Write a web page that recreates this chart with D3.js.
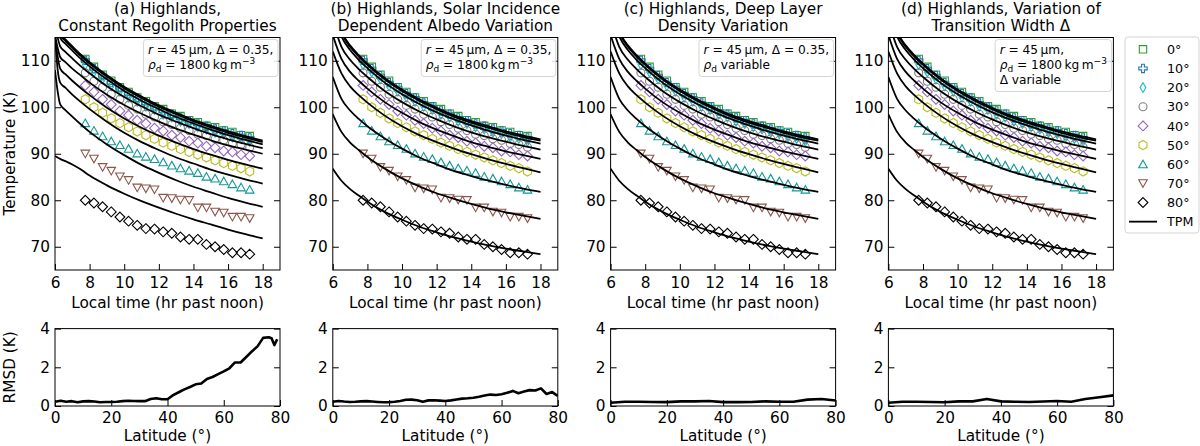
<!DOCTYPE html>
<html>
<head>
<meta charset="utf-8">
<script src="https://cdn.jsdelivr.net/npm/d3@7"></script>
<style>
  body { margin: 0; background: #fff; }
  svg { font-family: "DejaVu Sans", sans-serif; }
</style>
</head>
<body>
<div id="chart"></div>
<script>
// ---- data ----
var latLabels = ["0°", "10°", "20°", "30°", "40°", "50°", "60°", "70°", "80°"];

// observed night-time temperatures (K) at local time (hr past noon)
var obsTimes = [7.75, 8.25, 8.75, 9.25, 9.75, 10.25, 10.75, 11.25, 11.75, 12.25,
                12.75, 13.25, 13.75, 14.25, 14.75, 15.25, 15.75, 16.25, 16.75, 17.25];
var obs00 = [110.4, 108.7, 107.0, 105.7, 104.3, 103.3, 102.1, 101.3, 100.2, 99.6, 98.6, 98.1, 97.2, 96.8, 96.0, 95.7, 95.0, 94.7, 94.0, 93.8];
var obs10 = [110.1, 108.3, 106.8, 105.3, 104.2, 102.9, 102.0, 100.9, 100.1, 99.2, 98.5, 97.7, 97.1, 96.4, 95.9, 95.3, 94.9, 94.3, 93.9, 93.4];
var obs20 = [109.2, 107.6, 106.1, 104.6, 103.5, 102.2, 101.3, 100.2, 99.5, 98.5, 97.9, 97.0, 96.5, 95.8, 95.3, 94.6, 94.3, 93.6, 93.3, 92.7];
var obs30 = [107.4, 105.6, 104.3, 102.8, 101.7, 100.4, 99.6, 98.5, 97.9, 96.9, 96.3, 95.5, 95.0, 94.2, 93.9, 93.2, 92.9, 92.2, 92.0, 91.4];
var obs40 = [104.7, 103.3, 101.7, 100.6, 99.2, 98.3, 97.2, 96.5, 95.5, 94.9, 94.0, 93.5, 92.7, 92.3, 91.6, 91.3, 90.6, 90.4, 89.8, 89.5];
var obs50 = [101.7, 100.0, 98.8, 97.6, 96.6, 95.7, 94.8, 94.0, 93.2, 92.4, 91.7, 91.0, 90.4, 89.8, 89.2, 88.6, 88.0, 87.4, 86.9, 86.2];
var obs60 = [96.6, 95.0, 93.8, 92.7, 91.9, 91.1, 90.1, 89.4, 88.9, 88.2, 87.5, 86.9, 86.4, 85.9, 85.1, 84.7, 84.1, 83.5, 82.8, 82.3];
var obs70 = [90.0, 88.9, 87.1, 86.3, 85.1, 84.3, 82.7, 82.5, 82.3, 80.5, 80.4, 80.1, 80.0, 78.4, 78.4, 77.5, 77.3, 76.4, 76.4, 76.1];
var obs80 = [80.0, 79.4, 78.6, 77.5, 76.4, 75.5, 74.6, 73.9, 73.8, 73.2, 72.9, 72.1, 71.6, 71.6, 70.5, 70.0, 69.4, 68.7, 68.7, 68.4];
var observed = [obs00, obs10, obs20, obs30, obs40, obs50, obs60, obs70, obs80];

// TPM model curves, one row per latitude (0..80)
var tpmTimesConst = [6, 6.15, 6.3, 6.6, 7, 7.5, 8, 9, 10, 11, 12, 13, 14, 15, 16, 17, 18];
var tpmConstant = [
  [121.0, 117.8, 115.8, 114.6, 113.1, 111.3, 109.7, 106.9, 104.4, 102.3, 100.4, 98.8, 97.3, 96.0, 94.8, 93.8, 92.8],
  [120.5, 117.4, 115.5, 114.3, 112.8, 111.0, 109.4, 106.6, 104.1, 102.0, 100.1, 98.5, 97.0, 95.7, 94.5, 93.5, 92.5],
  [119.5, 116.8, 114.9, 113.7, 112.2, 110.4, 108.8, 106.0, 103.5, 101.4, 99.6, 97.9, 96.5, 95.2, 94.0, 93.0, 92.0],
  [117.5, 115.0, 113.1, 111.9, 110.5, 108.8, 107.3, 104.5, 102.2, 100.2, 98.4, 96.9, 95.5, 94.2, 93.1, 92.1, 91.2],
  [115.5, 112.8, 110.8, 109.7, 108.3, 106.8, 105.3, 102.7, 100.5, 98.6, 96.9, 95.4, 94.1, 92.9, 91.8, 90.9, 90.0],
  [115.0, 111.0, 108.3, 107.1, 105.7, 104.1, 102.6, 99.9, 97.6, 95.6, 93.9, 92.4, 91.0, 89.8, 88.7, 87.7, 86.8],
  [115.5, 108.2, 105.3, 104.2, 102.7, 101.1, 99.6, 96.9, 94.5, 92.5, 90.8, 89.2, 87.9, 86.6, 85.5, 84.5, 83.6],
  [108.0, 103.5, 100.6, 99.4, 98.0, 96.3, 94.7, 92.0, 89.7, 87.6, 85.9, 84.3, 82.9, 81.7, 80.5, 79.5, 78.6],
  [89.5, 89.2, 88.9, 88.4, 87.7, 86.6, 85.3, 83.2, 81.4, 79.8, 78.4, 77.1, 75.9, 74.8, 73.7, 72.7, 71.8]
];
var tpmTimes = [6, 6.5, 7, 7.5, 8, 9, 10, 11, 12, 13, 14, 15, 16, 17, 18];
var tpmAlbedo = [
  [122.0, 116.3, 113.3, 111.2, 109.4, 106.3, 103.8, 101.7, 99.9, 98.3, 97.0, 95.9, 94.8, 93.9, 93.1],
  [121.5, 116.0, 113.0, 110.9, 109.1, 106.0, 103.5, 101.4, 99.6, 98.0, 96.7, 95.6, 94.5, 93.6, 92.8],
  [120.5, 115.2, 112.3, 110.2, 108.4, 105.3, 102.8, 100.7, 98.9, 97.4, 96.1, 94.9, 93.9, 93.0, 92.2],
  [118.5, 113.0, 110.2, 108.2, 106.5, 103.5, 101.1, 99.1, 97.4, 95.9, 94.6, 93.5, 92.6, 91.7, 90.9],
  [115.5, 110.4, 107.6, 105.7, 104.0, 101.1, 98.8, 96.8, 95.2, 93.8, 92.5, 91.5, 90.5, 89.7, 88.9],
  [112.0, 107.3, 104.5, 102.6, 101.0, 98.2, 95.9, 94.0, 92.5, 91.1, 89.9, 88.8, 87.8, 86.9, 86.0],
  [106.5, 101.8, 99.3, 97.5, 95.9, 93.3, 91.1, 89.2, 87.7, 86.3, 85.2, 84.2, 83.3, 82.5, 81.8],
  [98.5, 94.7, 92.4, 90.8, 89.3, 86.8, 84.7, 83.0, 81.5, 80.3, 79.2, 78.2, 77.4, 76.7, 76.0],
  [86.8, 84.2, 82.4, 81.0, 79.7, 77.5, 75.8, 74.3, 73.1, 72.0, 71.1, 70.3, 69.6, 69.0, 68.4]
];
var tpmDensity = tpmAlbedo;
var tpmWidth = tpmAlbedo;

// RMSD (K) against latitude (deg)
var rmsdLatA = [0, 2, 4, 6, 8, 10, 12, 14, 16, 18, 20, 22, 24, 26, 28, 30, 32, 34, 36, 38, 40,
                42, 44, 46, 48, 50, 52, 54, 56, 58, 60, 62, 64, 66, 68, 70, 72, 74, 76, 77, 78, 79];
var rmsdA = [0.22, 0.27, 0.22, 0.25, 0.19, 0.24, 0.25, 0.23, 0.19, 0.21, 0.21, 0.22, 0.25, 0.27, 0.26, 0.25, 0.25, 0.36, 0.40, 0.35, 0.35,
             0.56, 0.71, 0.86, 0.98, 1.12, 1.16, 1.40, 1.50, 1.65, 1.79, 1.95, 2.25, 2.25, 2.53, 2.82, 3.08, 3.52, 3.55, 3.50, 3.15, 3.45];
var rmsdLatB = [0, 2, 4, 6, 8, 10, 12, 14, 16, 18, 20, 22, 24, 26, 28, 30, 32, 34, 36, 38, 40,
                42, 44, 46, 48, 50, 52, 54, 56, 58, 60, 62, 64, 66, 68, 70, 72, 74, 76, 78, 80];
var rmsdB = [0.22, 0.26, 0.23, 0.21, 0.22, 0.24, 0.25, 0.23, 0.21, 0.19, 0.19, 0.22, 0.26, 0.32, 0.33, 0.30, 0.22, 0.29, 0.30, 0.28, 0.26,
             0.29, 0.34, 0.38, 0.40, 0.43, 0.48, 0.54, 0.59, 0.57, 0.61, 0.68, 0.78, 0.66, 0.75, 0.82, 0.80, 0.91, 0.62, 0.72, 0.52];
var rmsdLatCD = [0, 5, 10, 15, 20, 25, 30, 35, 40, 45, 50, 55, 60, 65, 70, 75, 80];
var rmsdC = [0.17, 0.22, 0.22, 0.21, 0.20, 0.24, 0.24, 0.26, 0.20, 0.20, 0.21, 0.24, 0.22, 0.22, 0.33, 0.36, 0.28];
var rmsdD = [0.17, 0.22, 0.22, 0.21, 0.19, 0.24, 0.24, 0.36, 0.24, 0.22, 0.21, 0.23, 0.26, 0.22, 0.36, 0.45, 0.55];

var timeTicks = [6, 8, 10, 12, 14, 16, 18];
var tempTicks = [70, 80, 90, 100, 110];
var latTicks = [0, 20, 40, 60, 80];
var rmsdTicks = [0, 2, 4];

// ---- styles ----
var latColors = ["#2ca02c", "#1f77b4", "#17becf", "#7f7f7f", "#9467bd", "#bcbd22", "#139797", "#8c564b", "#000000"];
var latMarkers = ["square", "plus", "thin", "circle", "diamond", "hexagon", "triUp", "triDown", "diamond"];

var width = 1200, height = 446;
var fontSize = 15.3;
var margin = { left: 55, step: 277.8, panelW: 225, top: 37.5, bottom: 270, rTop: 328.6, rBottom: 406 };

var svg = d3.select("#chart").append("svg")
  .attr("width", width)
  .attr("height", height);

var x = d3.scaleLinear().domain([6, 19]).range([0, margin.panelW]);
var y = d3.scaleLinear().domain([65, 115]).range([margin.bottom - margin.top, 0]);
var xl = d3.scaleLinear().domain([0, 80]).range([0, margin.panelW]);
var yl = d3.scaleLinear().domain([0, 4]).range([margin.rBottom - margin.rTop, 0]);

function markerPath(type) {
  switch (type) {
    case "square": return "M-3.7,-3.7H3.7V3.7H-3.7Z";
    case "plus": return "M-1.4,-4.2H1.4V-1.4H4.2V1.4H1.4V4.2H-1.4V1.4H-4.2V-1.4H-1.4Z";
    case "thin": return "M0,-4.9L2.9,0L0,4.9L-2.9,0Z";
    case "circle": return "M4,0A4,4 0 1,1 -4,0A4,4 0 1,1 4,0Z";
    case "diamond": return "M0,-4.9L4.9,0L0,4.9L-4.9,0Z";
    case "hexagon":
      var pts = d3.range(6).map(function (k) {
        var a = -Math.PI / 2 + k * Math.PI / 3;
        return [4.6 * Math.cos(a), 4.6 * Math.sin(a)];
      });
      return "M" + pts.join("L") + "Z";
    case "triUp": return "M0,-4L4.3,3.6L-4.3,3.6Z";
    case "triDown": return "M0,4L4.3,-3.6L-4.3,-3.6Z";
  }
}

var lineR = [{ t: "r", i: 1 }, { t: " = 45\u2009μm, Δ = 0.35," }];
var lineRho = [{ t: "ρ", i: 1 }, { t: "d", sub: 1 }, { t: " = 1800\u2009kg\u2009m" }, { t: "−3", sup: 1 }];

var panels = [
  { title: ["(a) Highlands,", "Constant Regolith Properties"], times: tpmTimesConst, tpm: tpmConstant,
    note: [lineR, lineRho], rLat: rmsdLatA, r: rmsdA },
  { title: ["(b) Highlands, Solar Incidence", "Dependent Albedo Variation"], times: tpmTimes, tpm: tpmAlbedo,
    note: [lineR, lineRho], rLat: rmsdLatB, r: rmsdB },
  { title: ["(c) Highlands, Deep Layer", "Density Variation"], times: tpmTimes, tpm: tpmDensity,
    note: [lineR, [{ t: "ρ", i: 1 }, { t: "d", sub: 1 }, { t: " variable" }]], rLat: rmsdLatCD, r: rmsdC },
  { title: ["(d) Highlands, Variation of", "Transition Width Δ"], times: tpmTimes, tpm: tpmWidth,
    note: [[{ t: "r", i: 1 }, { t: " = 45\u2009μm," }], lineRho, [{ t: "Δ variable" }]], rLat: rmsdLatCD, r: rmsdD }
];

function writeLine(text, segs) {
  var shift = 0;
  segs.forEach(function (s) {
    var ts = text.append("tspan").text(s.t);
    var want = s.sub ? 3 : (s.sup ? -5 : 0);
    if (want !== shift) { ts.attr("dy", want - shift); shift = want; }
    if (s.i) ts.attr("font-style", "italic");
    if (s.sub || s.sup) ts.attr("font-size", 9);
  });
}

function frameAxes(g, w, h, xs, ys, xt, yt, xPad) {
  var ax = g.append("g").attr("transform", "translate(0," + h + ")")
    .call(d3.axisBottom(xs).tickValues(xt).tickFormat(d3.format("d"))
      .tickSizeInner(-6).tickSizeOuter(0).tickPadding(xPad));
  var ay = g.append("g")
    .call(d3.axisLeft(ys).tickValues(yt).tickFormat(d3.format("d"))
      .tickSizeInner(-6).tickSizeOuter(0).tickPadding(5));
  var ar = g.append("g").attr("transform", "translate(" + w + ",0)")
    .call(d3.axisRight(ys).tickValues(yt).tickSizeInner(-6).tickSizeOuter(0).tickFormat(""));
  [ax, ay, ar].forEach(function (a) {
    a.select(".domain").remove();
    a.selectAll("line").attr("stroke", "#000").attr("stroke-width", 1);
    a.selectAll("text").attr("font-size", fontSize).attr("fill", "#000")
      .attr("font-family", "DejaVu Sans, sans-serif");
  });
  g.append("rect").attr("width", w).attr("height", h)
    .attr("fill", "none").attr("stroke", "#000").attr("stroke-width", 1);
}

var topH = margin.bottom - margin.top;
var botH = margin.rBottom - margin.rTop;

panels.forEach(function (p, pi) {
  var left = margin.left + pi * margin.step;
  var cx = left + margin.panelW / 2;

  // title
  p.title.forEach(function (t, k) {
    svg.append("text").attr("x", cx).attr("y", 14.3 + k * 16.5)
      .attr("text-anchor", "middle").attr("font-size", fontSize).text(t);
  });

  // ---- top panel ----
  var g = svg.append("g").attr("transform", "translate(" + left + "," + margin.top + ")");
  svg.append("clipPath").attr("id", "clipT" + pi).append("rect")
    .attr("width", margin.panelW).attr("height", topH);
  var plot = g.append("g").attr("clip-path", "url(#clipT" + pi + ")");

  observed.forEach(function (series, li) {
    plot.append("g").selectAll("path").data(series).join("path")
      .attr("transform", function (d, k) { return "translate(" + x(obsTimes[k]) + "," + y(d) + ")"; })
      .attr("d", markerPath(latMarkers[li]))
      .attr("fill", "none").attr("stroke", latColors[li]).attr("stroke-width", 1.1);
  });

  var line = d3.line()
    .x(function (d, k) { return x(p.times[k]); })
    .y(function (d) { return y(d); })
    .curve(d3.curveMonotoneX);
  p.tpm.forEach(function (row) {
    plot.append("path").attr("d", line(row))
      .attr("fill", "none").attr("stroke", "#000").attr("stroke-width", 1.8);
  });

  frameAxes(g, margin.panelW, topH, x, y, timeTicks, tempTicks, 7);

  g.append("text").attr("x", margin.panelW / 2).attr("y", 307.5 - margin.top)
    .attr("text-anchor", "middle").attr("font-size", fontSize).text("Local time (hr past noon)");

  // parameter box
  var note = g.append("g");
  var box = note.append("rect");
  var tg = note.append("g");
  p.note.forEach(function (segs, k) {
    var t = tg.append("text").attr("x", 0).attr("y", 14.5 + k * 15).attr("font-size", 12.2);
    writeLine(t, segs);
  });
  var bb = tg.node().getBBox();
  var bw = bb.width + 9, bh = p.note.length * 15 + 7;
  box.attr("x", -4.5).attr("y", 0).attr("width", bw).attr("height", bh)
    .attr("rx", 3).attr("fill", "#fff").attr("fill-opacity", 0.85)
    .attr("stroke", "#d5d5d5").attr("stroke-width", 1);
  note.attr("transform", "translate(" + (margin.panelW - 2 - bw + 4.5) + "," + 2 + ")");

  // ---- bottom RMSD panel ----
  var gb = svg.append("g").attr("transform", "translate(" + left + "," + margin.rTop + ")");
  svg.append("clipPath").attr("id", "clipB" + pi).append("rect")
    .attr("width", margin.panelW).attr("height", botH);
  var rline = d3.line()
    .x(function (d, k) { return xl(p.rLat[k]); })
    .y(function (d) { return yl(d); });
  gb.append("g").attr("clip-path", "url(#clipB" + pi + ")")
    .append("path").attr("d", rline(p.r))
    .attr("fill", "none").attr("stroke", "#000").attr("stroke-width", 2.6)
    .attr("stroke-linejoin", "round");

  frameAxes(gb, margin.panelW, botH, xl, yl, latTicks, rmsdTicks, 6);

  gb.append("text").attr("x", margin.panelW / 2).attr("y", 441.5 - margin.rTop)
    .attr("text-anchor", "middle").attr("font-size", fontSize).text("Latitude (°)");
});

// y-axis labels
svg.append("text")
  .attr("transform", "translate(14.5," + ((margin.top + margin.bottom) / 2) + ")rotate(-90)")
  .attr("text-anchor", "middle").attr("font-size", fontSize).text("Temperature (K)");
svg.append("text")
  .attr("transform", "translate(14.5," + ((margin.rTop + margin.rBottom) / 2) + ")rotate(-90)")
  .attr("text-anchor", "middle").attr("font-size", fontSize).text("RMSD (K)");

// legend
var legend = svg.append("g").attr("transform", "translate(1125,37)");
legend.append("rect").attr("width", 74).attr("height", 196).attr("rx", 3)
  .attr("fill", "#fff").attr("stroke", "#d5d5d5").attr("stroke-width", 1);
latLabels.forEach(function (lab, li) {
  var yy = 12.3 + li * 19.15;
  legend.append("path").attr("d", markerPath(latMarkers[li]))
    .attr("transform", "translate(18," + yy + ")")
    .attr("fill", "none").attr("stroke", latColors[li]).attr("stroke-width", 1.1);
  legend.append("text").attr("x", 42).attr("y", yy + 4.6).attr("font-size", 12.7).text(lab);
});
var ty = 12.3 + 9 * 19.15;
legend.append("line").attr("x1", 4).attr("x2", 32).attr("y1", ty).attr("y2", ty)
  .attr("stroke", "#000").attr("stroke-width", 1.8);
legend.append("text").attr("x", 42).attr("y", ty + 4.6).attr("font-size", 12.7).text("TPM");
</script>
</body>
</html>
